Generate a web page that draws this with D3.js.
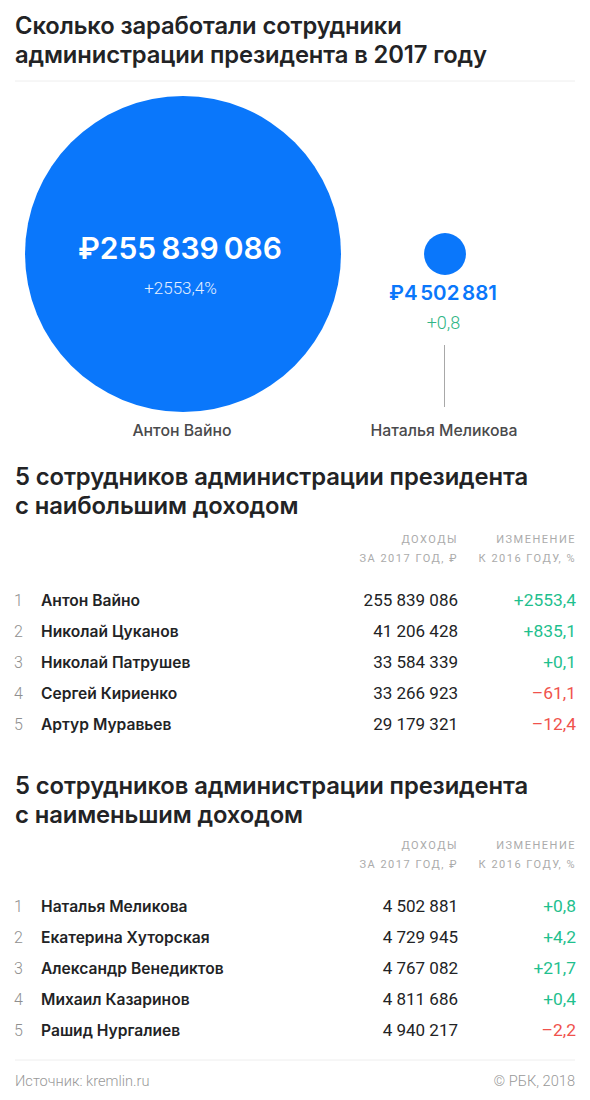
<!DOCTYPE html>
<html><head><meta charset="utf-8">
<script src="https://cdnjs.cloudflare.com/ajax/libs/d3/7.8.5/d3.min.js"></script>
<style>html,body{margin:0;padding:0;background:#fff}svg{display:block}</style>
</head><body><svg id="c" width="590" height="1100"></svg>
<script>
const titleLines = ["Сколько заработали сотрудники","администрации президента в 2017 году"];
const bubbleNames = ["Антон Вайно","Наталья Меликова"];
const bubbleValues = [255839086,4502881];
const bubbleLabels = ["₽255 839 086","₽4 502 881"];
const bubbleChanges = ["+2553,4%","+0,8"];
const topHeading = ["5 сотрудников администрации президента","с наибольшим доходом"];
const topNames = ["Антон Вайно","Николай Цуканов","Николай Патрушев","Сергей Кириенко","Артур Муравьев"];
const topIncome = [255839086,41206428,33584339,33266923,29179321];
const topChange = [2553.4,835.1,0.1,-61.1,-12.4];
const lowHeading = ["5 сотрудников администрации президента","с наименьшим доходом"];
const lowNames = ["Наталья Меликова","Екатерина Хуторская","Александр Венедиктов","Михаил Казаринов","Рашид Нургалиев"];
const lowIncome = [4502881,4729945,4767082,4811686,4940217];
const lowChange = [0.8,4.2,21.7,0.4,-2.2];
const colHead1 = ["ДОХОДЫ","ЗА 2017 ГОД, ₽"];
const colHead2 = ["ИЗМЕНЕНИЕ","К 2016 ГОДУ, %"];

const svg = d3.select("#c");
const BLUE="#0a77fb", DARK="#222325", GREEN="#1fc08e", RED="#f0524c";
const fmtInt = v => String(v).replace(/\B(?=(\d{3})+(?!\d))/g," ");
const fmtChg = v => (v>=0?"+":"–")+Math.abs(v).toFixed(1).replace(".",",");
function txt(x,y,s,o={}){
  return svg.append("text").attr("x",x).attr("y",y).text(s)
    .attr("font-size",o.size||16).attr("font-weight",o.weight||400)
    .attr("fill",o.fill||DARK).attr("text-anchor",o.anchor||"start")
    .attr("letter-spacing",o.ls||null).attr("word-spacing",o.ws||null)
    .attr("font-family",o.font||"Inter, Roboto, sans-serif");
}
function rule(y){svg.append("line").attr("x1",15).attr("x2",575).attr("y1",y).attr("y2",y).attr("stroke","#eeeeee").attr("stroke-width",1);}

titleLines.forEach((t,i)=>txt(15,34+i*29,t,{size:23.75,weight:600,ls:-0.1}));
rule(81);
txt(15,1086,"Источник: kremlin.ru",{size:14.6,weight:300,fill:"#999999",font:"Roboto"});
txt(575,1086,"© РБК, 2018",{size:14.6,weight:300,fill:"#999999",anchor:"end",font:"Roboto"});
rule(1060);

const r = d3.scaleSqrt().domain([0,bubbleValues[0]]).range([0,158]);
const cx = d3.scaleOrdinal().domain(bubbleNames).range([183,445]);
const cy = 254;
svg.selectAll("circle.b").data(bubbleValues).join("circle").attr("class","b")
  .attr("cx",(d,i)=>cx(bubbleNames[i])).attr("cy",cy).attr("r",d=>r(d)).attr("fill",BLUE);
txt(180,259,bubbleLabels[0],{size:30,weight:600,fill:"#fff",anchor:"middle",ws:-2.5});
txt(180.5,294,bubbleChanges[0],{size:17,weight:300,fill:"#e4efff",anchor:"middle",font:"Roboto"});
txt(443,300,bubbleLabels[1],{size:20.5,weight:600,fill:BLUE,anchor:"middle",ws:-2.5});
txt(443.5,329,bubbleChanges[1],{size:18,weight:300,fill:"#2fb585",anchor:"middle",font:"Roboto"});
svg.append("line").attr("x1",444.5).attr("x2",444.5).attr("y1",345).attr("y2",407).attr("stroke","#a8a8a8").attr("stroke-width",1);
bubbleNames.forEach(n=>txt(n===bubbleNames[0]?182:444,436,n,{size:15.8,weight:500,fill:"#4a4a4c",anchor:"middle"}));

function table(heading,names,income,change,hy,chy,ry){
  heading.forEach((t,i)=>txt(15,hy+i*28.5,t,{size:23.8,weight:600,ls:-0.1}));
  [0,1].forEach(i=>{
    txt(458,chy+i*19,colHead1[i],{size:11,fill:"#ababab",anchor:"end",ls:1.5,font:"Roboto"});
    txt(576,chy+i*19,colHead2[i],{size:11,fill:"#ababab",anchor:"end",ls:1.5,font:"Roboto"});
  });
  const y = d3.scalePoint().domain(names).range([ry,ry+124]);
  names.forEach((n,i)=>{
    txt(14,y(n),String(i+1),{size:16,weight:300,fill:"#8f8f8f",font:"Roboto"});
    txt(41,y(n),n,{size:15.6,weight:600});
    txt(458,y(n),fmtInt(income[i]),{size:17,anchor:"end",font:"Roboto"});
    txt(576,y(n),fmtChg(change[i]),{size:17.4,anchor:"end",fill:change[i]>=0?GREEN:RED,font:"Roboto"});
  });
}
table(topHeading,topNames,topIncome,topChange,485,543,606);
table(lowHeading,lowNames,lowIncome,lowChange,794,849,912);
</script></body></html>
